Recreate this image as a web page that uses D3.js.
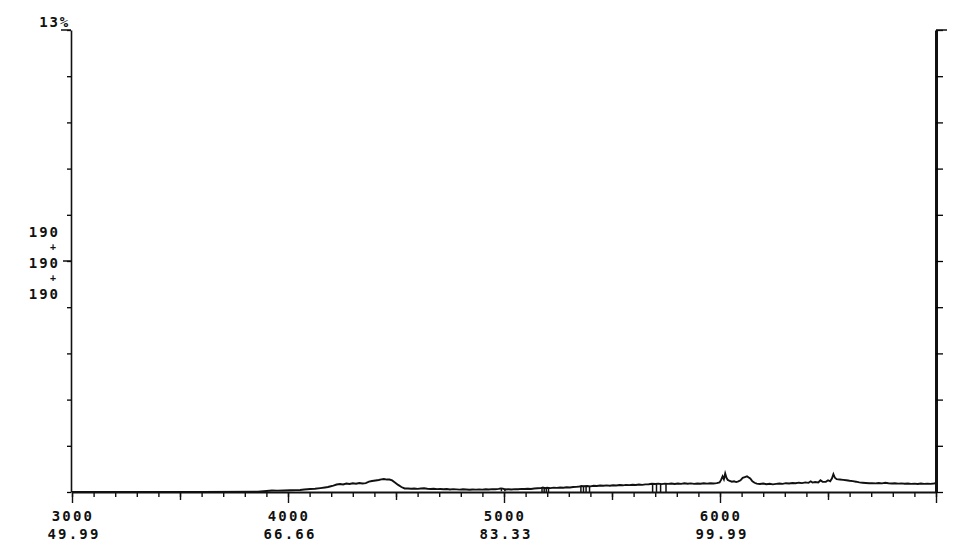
<!DOCTYPE html>
<html>
<head>
<meta charset="utf-8">
<script src="https://cdn.jsdelivr.net/npm/d3@7"></script>
<style>
  body { margin: 0; background: #fff; }
  text { font-family: "DejaVu Sans Mono", monospace; font-weight: bold; fill: #111; }
</style>
</head>
<body>
<div id="chart"></div>
<script>
// Spectrum trace: [wavenumber, percent]
let trace = [
  [3000,0],[3300,0],[3600,0.004],[3860,0.008],[3900,0.03],[3926,0.042],[3950,0.04],[3980,0.044],
  [4010,0.048],[4035,0.052],[4056,0.056],[4075,0.07],[4090,0.078],[4102,0.084],[4125,0.09],[4150,0.11],
  [4171,0.127],[4185,0.14],[4194,0.155],[4210,0.18],[4225,0.21],[4241,0.225],[4255,0.212],[4270,0.238],
  [4285,0.226],[4300,0.245],[4315,0.232],[4330,0.252],[4345,0.238],[4360,0.25],[4375,0.29],[4389,0.31],
  [4405,0.325],[4420,0.338],[4432,0.355],[4444,0.366],[4458,0.35],[4470,0.352],[4482,0.325],[4495,0.27],
  [4510,0.2],[4525,0.14],[4540,0.1],[4555,0.1],[4570,0.092],[4585,0.1],[4600,0.088],[4615,0.097],
  [4630,0.105],[4645,0.09],[4660,0.083],[4675,0.092],[4690,0.08],[4705,0.086],[4720,0.078],[4735,0.084],
  [4750,0.072],[4765,0.08],[4780,0.075],[4795,0.068],[4810,0.076],[4825,0.07],[4840,0.062],[4855,0.072],
  [4870,0.066],[4885,0.074],[4900,0.068],[4915,0.078],[4930,0.07],[4945,0.08],[4960,0.076],[4975,0.088],
  [4985,0.1],[4995,0.095],[5005,0.07],[5020,0.078],[5035,0.072],[5050,0.082],[5065,0.078],[5080,0.088],
  [5095,0.084],[5110,0.092],[5125,0.086],[5140,0.098],[5155,0.104],[5170,0.11],[5180,0.125],[5190,0.105],
  [5200,0.118],[5215,0.11],[5230,0.122],[5245,0.115],[5260,0.128],[5275,0.12],[5290,0.134],[5305,0.126],
  [5320,0.14],[5335,0.145],[5350,0.155],[5360,0.17],[5370,0.16],[5385,0.168],[5400,0.158],[5415,0.175],
  [5430,0.17],[5445,0.182],[5460,0.174],[5475,0.186],[5490,0.178],[5505,0.19],[5520,0.183],[5535,0.196],
  [5550,0.188],[5565,0.2],[5580,0.193],[5595,0.205],[5610,0.197],[5625,0.21],[5640,0.2],[5655,0.214],
  [5670,0.22],[5685,0.232],[5700,0.225],[5715,0.236],[5730,0.222],[5745,0.235],[5760,0.228],[5775,0.24],
  [5790,0.226],[5805,0.238],[5820,0.23],[5835,0.244],[5850,0.232],[5865,0.242],[5880,0.228],[5895,0.24],
  [5910,0.232],[5925,0.246],[5940,0.236],[5955,0.248],[5970,0.24],[5985,0.25],[5998,0.27],[6005,0.34],
  [6012,0.44],[6018,0.36],[6024,0.52],[6030,0.4],[6036,0.34],[6045,0.31],[6055,0.29],[6065,0.3],
  [6075,0.28],[6085,0.3],[6095,0.33],[6105,0.4],[6115,0.42],[6125,0.44],[6133,0.41],[6140,0.38],
  [6150,0.3],[6160,0.26],[6170,0.235],[6185,0.225],[6200,0.238],[6215,0.22],[6230,0.232],[6245,0.215],
  [6260,0.228],[6275,0.24],[6290,0.23],[6305,0.248],[6320,0.24],[6335,0.255],[6350,0.246],[6365,0.262],
  [6380,0.25],[6395,0.27],[6410,0.258],[6420,0.3],[6428,0.265],[6440,0.28],[6455,0.27],[6465,0.33],
  [6475,0.285],[6490,0.29],[6500,0.33],[6510,0.3],[6518,0.38],[6525,0.5],[6532,0.4],[6540,0.36],
  [6555,0.35],[6570,0.34],[6585,0.33],[6600,0.315],[6615,0.305],[6630,0.29],[6645,0.27],[6660,0.26],
  [6675,0.252],[6690,0.245],[6705,0.25],[6720,0.242],[6735,0.254],[6750,0.244],[6765,0.258],[6780,0.246],
  [6795,0.238],[6810,0.245],[6825,0.235],[6840,0.242],[6855,0.232],[6870,0.24],[6885,0.228],[6900,0.236],
  [6915,0.226],[6930,0.238],[6945,0.228],[6960,0.236],[6975,0.23],[6990,0.24],[7000,0.25]
];

// short vertical dropouts in the trace: [wavenumber, low, high]
let dropouts = [
  [4988,0.02,0.1],[5004,0.02,0.1],
  [5176,0,0.13],[5186,0,0.14],[5196,0,0.13],[5206,0,0.125],
  [5356,0,0.17],[5368,0,0.18],[5380,0,0.17],[5396,0,0.165],
  [5688,0,0.25],[5706,0,0.25],[5725,0,0.24],[5750,0,0.245]
];

let xMajor = [3000, 4000, 5000, 6000, 7000];
let xMedium = [3500, 4500, 5500, 6500];
let xLabels1 = ["3000", "4000", "5000", "6000"];
let xLabels2 = ["49.99", "66.66", "83.33", "99.99"];
let yTop = "13%";
let yMidLabels = ["190", "+", "190", "+", "190"];

let svgWidth = 956;
let svgHeight = 550;

let svg = d3.select("#chart")
  .append("svg")
  .attr("width", svgWidth)
  .attr("height", svgHeight);

let x = d3.scaleLinear().domain([3000, 7000]).range([72, 936]);
let y = d3.scaleLinear().domain([0, 13]).range([492, 30]);
let yTicks = d3.range(0, 11).map(i => i * 1.3);

// bottom axis: minor, medium and major ticks
svg.append("g")
  .attr("transform", "translate(0,492)")
  .call(d3.axisBottom(x).tickValues(d3.range(3000, 7001, 100)).tickSize(5).tickSizeOuter(0).tickFormat(""))
  .call(g => g.select(".domain").attr("stroke-width", 2));
svg.append("g")
  .attr("transform", "translate(0,492)")
  .call(d3.axisBottom(x).tickValues(xMedium).tickSize(8).tickSizeOuter(0).tickFormat(""))
  .call(g => g.select(".domain").remove());
svg.append("g")
  .attr("transform", "translate(0,492)")
  .call(d3.axisBottom(x).tickValues(xMajor).tickSize(11).tickSizeOuter(0).tickFormat(""))
  .call(g => g.select(".domain").remove());
svg.selectAll(".tick line").attr("stroke", "#111").attr("stroke-width", 1.4);

// left axis
svg.append("g")
  .attr("transform", "translate(71,0)")
  .call(d3.axisLeft(y).tickValues(yTicks).tickSize(4).tickSizeOuter(0).tickFormat(""))
  .call(g => g.select(".domain").attr("stroke-width", 1.6))
  .call(g => g.selectAll(".tick line").attr("stroke-width", 1.3));
svg.append("line")
  .attr("x1", 61).attr("x2", 71).attr("y1", y(13)).attr("y2", y(13))
  .attr("stroke", "#111").attr("stroke-width", 1.5);
svg.append("line")
  .attr("x1", 63).attr("x2", 71).attr("y1", y(6.5)).attr("y2", y(6.5))
  .attr("stroke", "#111").attr("stroke-width", 1.5);

// right axis
svg.append("g")
  .attr("transform", "translate(936,0)")
  .call(d3.axisRight(y).tickValues(yTicks).tickSize(7).tickSizeOuter(0).tickFormat(""))
  .call(g => g.select(".domain").attr("stroke-width", 3))
  .call(g => g.selectAll(".tick line").attr("stroke-width", 1.3));
svg.append("line")
  .attr("x1", 936).attr("x2", 947).attr("y1", y(13)).attr("y2", y(13))
  .attr("stroke", "#111").attr("stroke-width", 1.5);
svg.selectAll(".domain").attr("stroke", "#111");

// trace
svg.append("path")
  .datum(trace)
  .attr("fill", "none")
  .attr("stroke", "#111")
  .attr("stroke-width", 1.9)
  .attr("stroke-linejoin", "miter")
  .attr("d", d3.line().x(d => x(d[0])).y(d => y(d[1])));

svg.append("g").selectAll("line")
  .data(dropouts)
  .enter()
  .append("line")
  .attr("x1", d => x(d[0])).attr("x2", d => x(d[0]))
  .attr("y1", d => y(d[1])).attr("y2", d => y(d[2]))
  .attr("stroke", "#111")
  .attr("stroke-width", 1.5);

// x tick labels, two rows
let labelG = svg.append("g");
labelG.selectAll(".l1")
  .data(xLabels1)
  .enter()
  .append("text")
  .attr("x", d => x(+d) + 1)
  .attr("y", 521)
  .attr("text-anchor", "middle")
  .attr("font-size", 14)
  .attr("letter-spacing", 2.2)
  .text(d => d);
labelG.selectAll(".l2")
  .data(xLabels2)
  .enter()
  .append("text")
  .attr("x", (d, i) => x(+xLabels1[i]) + 2)
  .attr("y", 539)
  .attr("text-anchor", "middle")
  .attr("font-size", 14)
  .attr("letter-spacing", 2.2)
  .text(d => d);

// y labels
svg.append("text")
  .attr("x", 70)
  .attr("y", 27)
  .attr("text-anchor", "end")
  .attr("font-size", 14)
  .attr("letter-spacing", 1.8)
  .text(yTop);

let yMidPos = [237, 250, 268, 281, 299];
svg.append("g").selectAll("text")
  .data(yMidLabels)
  .enter()
  .append("text")
  .attr("x", (d, i) => d === "+" ? 53 : 60)
  .attr("y", (d, i) => yMidPos[i])
  .attr("text-anchor", (d) => d === "+" ? "middle" : "end")
  .attr("font-size", d => d === "+" ? 10 : 14)
  .attr("letter-spacing", d => d === "+" ? 0 : 2)
  .text(d => d);
</script>
</body>
</html>
